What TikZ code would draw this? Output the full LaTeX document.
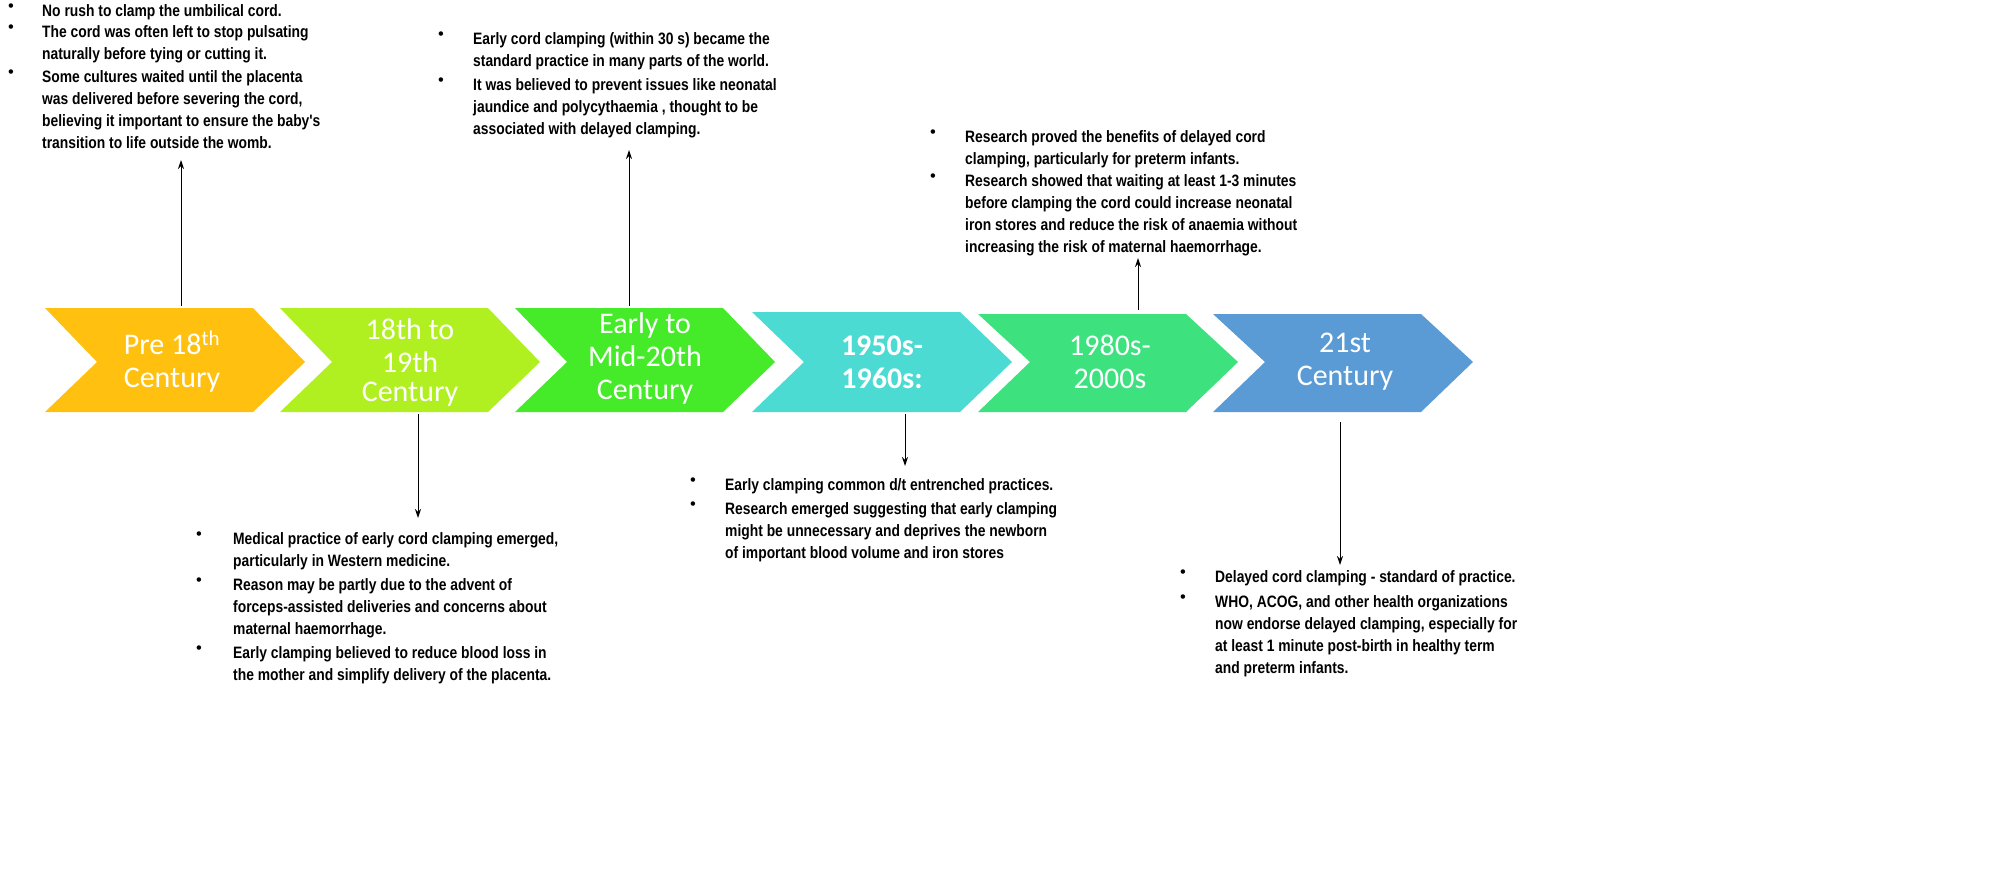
\documentclass[tikz,border=0pt]{standalone}
\usepackage{fontspec}
\setmainfont{Liberation Sans}
\newfontfamily\nar[FakeStretch=0.84]{Liberation Sans}
\newfontfamily\calfont{Carlito}
\usetikzlibrary{arrows.meta}
\begin{document}
\begin{tikzpicture}[x=1pt,y=-1pt,
  lab/.style={text=white,font=\calfont\fontsize{30}{33}\selectfont,align=center},
  itm/.style={anchor=north west,inner sep=0,align=left,font=\nar\bfseries\fontsize{16.5}{22}\selectfont},
  bul/.style={anchor=north west,inner sep=0,font=\fontsize{16.5}{22}\selectfont},
  arr/.style={-{Stealth[length=9pt,width=6pt]},line width=1pt}]
\useasboundingbox (0,0) rectangle (1999,873);
\definecolor{c1}{HTML}{FFC010}\definecolor{c2}{HTML}{B0F020}\definecolor{c3}{HTML}{45EA28}
\definecolor{c4}{HTML}{4CDBD3}\definecolor{c5}{HTML}{3DE27F}\definecolor{c6}{HTML}{5B9BD5}
\foreach \c/\x/\t in {c1/45/308,c2/280/308,c3/515/308,c4/752/312,c5/978/314,c6/1213/314}{
  \fill[\c] (\x,\t) -- (\x+208,\t) -- (\x+260,362) -- (\x+208,412) -- (\x,412) -- (\x+52,362) -- cycle;}
\node[lab] (l1) at (172,362) {Pre 18\textsuperscript{th}\\Century};
\node[lab] (l2) at (410,362) {18th to\\19th\\[-4pt]Century};
\node[lab] (l3) at (645,358) {Early to\\Mid-20th\\Century};
\node[lab,font=\calfont\bfseries\fontsize{30}{33}\selectfont] (l4) at (882,362) {1950s-\\1960s:};
\node[lab] (l5) at (1110,362) {1980s-\\2000s};
\node[lab] (l6) at (1345,362) {21st\\Century};
\coordinate (a1s) at (181,306); \coordinate (a1e) at (181,160);
\coordinate (a2s) at (418,414); \coordinate (a2e) at (418,518);
\coordinate (a3s) at (629,306); \coordinate (a3e) at (629,150);
\coordinate (a4s) at (905,414); \coordinate (a4e) at (905,466);
\coordinate (a5s) at (1138,310); \coordinate (a5e) at (1138,258);
\coordinate (a6s) at (1340,422); \coordinate (a6e) at (1340,565);
\foreach \i in {1,...,6}{\draw[arr] (a\i s) -- (a\i e);}
% block 1
\node[bul] (b11) at (8,4) {•};\node[itm] (t11) at (42,4) {No rush to clamp the umbilical cord.};
\node[bul] (b12) at (8,25) {•};\node[itm] (t12) at (42,25) {The cord was often left to stop pulsating\\naturally before tying or cutting it.};
\node[bul] (b13) at (8,70) {•};\node[itm] (t13) at (42,70) {Some cultures waited until the placenta\\was delivered before severing the cord,\\believing it important to ensure the baby's\\transition to life outside the womb.};
% block 2
\node[bul] (b21) at (438,32) {•};\node[itm] (t21) at (473,32) {Early cord clamping (within 30 s) became the\\standard practice in many parts of the world.};
\node[bul] (b22) at (438,78) {•};\node[itm] (t22) at (473,78) {It was believed to prevent issues like neonatal\\jaundice and polycythaemia , thought to be\\associated with delayed clamping.};
% block 3
\node[bul] (b31) at (930,130) {•};\node[itm] (t31) at (965,130) {Research proved the benefits of delayed cord\\clamping, particularly for preterm infants.};
\node[bul] (b32) at (930,174) {•};\node[itm] (t32) at (965,174) {Research showed that waiting at least 1-3 minutes\\before clamping the cord could increase neonatal\\iron stores and reduce the risk of anaemia without\\increasing the risk of maternal haemorrhage.};
% block 4
\node[bul] (b41) at (196,532) {•};\node[itm] (t41) at (233,532) {Medical practice of early cord clamping emerged,\\particularly in Western medicine.};
\node[bul] (b42) at (196,578) {•};\node[itm] (t42) at (233,578) {Reason may be  partly due to the advent of\\forceps-assisted deliveries and concerns about\\maternal haemorrhage.};
\node[bul] (b43) at (196,646) {•};\node[itm] (t43) at (233,646) {Early clamping believed to reduce blood loss in\\the mother and simplify delivery of the placenta.};
% block 5
\node[bul] (b51) at (690,478) {•};\node[itm] (t51) at (725,478) {Early clamping common d/t entrenched practices.};
\node[bul] (b52) at (690,502) {•};\node[itm] (t52) at (725,502) {Research emerged suggesting that early clamping\\might be unnecessary and deprives the newborn\\of important blood volume and iron stores};
% block 6
\node[bul] (b61) at (1180,570) {•};\node[itm] (t61) at (1215,570) {Delayed cord clamping - standard of practice.};
\node[bul] (b62) at (1180,595) {•};\node[itm] (t62) at (1215,595) {WHO, ACOG, and other health organizations\\now endorse delayed clamping, especially for\\at least 1 minute post-birth in healthy term\\and preterm infants.};
\end{tikzpicture}
\end{document}
